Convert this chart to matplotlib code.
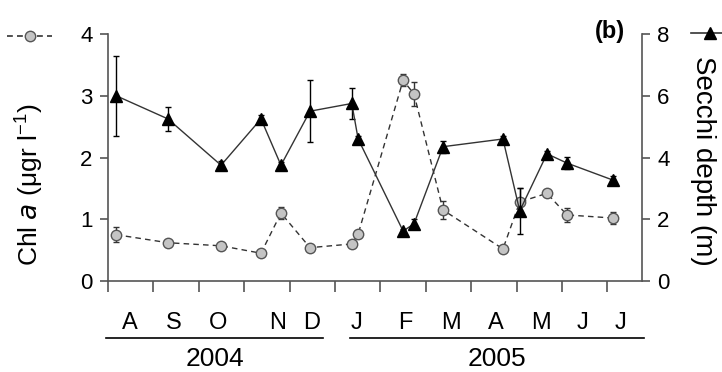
import matplotlib

matplotlib.use("Agg")
import matplotlib.pyplot as plt
import matplotlib.transforms as mtransforms

plt.rcParams["font.family"] = ["Liberation Sans", "DejaVu Sans"]

# sampling dates, in months since 1 Aug 2004
t = [0.18, 1.32, 2.49, 3.37, 3.81, 4.45, 5.37, 5.51, 6.50, 6.74, 7.38, 8.70, 9.07, 9.67, 10.11, 11.12]

chl = [0.75, 0.62, 0.57, 0.45, 1.10, 0.54, 0.60, 0.76, 3.25, 3.03, 1.15, 0.52, 1.28, 1.42, 1.07, 1.02]
chl_err = [0.12, 0.04, 0.03, 0.03, 0.10, 0.03, 0.03, 0.05, 0.10, 0.20, 0.15, 0.03, 0.22, 0.05, 0.12, 0.10]

secchi = [6.0, 5.25, 3.75, 5.25, 3.75, 5.5, 5.75, 4.6, 1.62, 1.85, 4.35, 4.6, 2.27, 4.12, 3.82, 3.27]
secchi_err = [1.3, 0.4, 0.15, 0.12, 0.12, 1.0, 0.5, 0.1, 0.08, 0.15, 0.2, 0.1, 0.75, 0.08, 0.2, 0.12]

months = ["A", "S", "O", "N", "D", "J", "F", "M", "A", "M", "J", "J"]
month_pos = [0.48, 1.44, 2.43, 3.73, 4.49, 5.48, 6.56, 7.56, 8.55, 9.54, 10.46, 11.28]
years = ["2004", "2005"]
year_span = [(-0.04, 4.74), (5.33, 11.8)]

fig = plt.figure(figsize=(7.22, 3.72), dpi=100)
ax = fig.add_axes([0.1496, 0.2446, 0.7394, 0.664])
ax2 = ax.twinx()

grey = "#333333"
ax.errorbar(t, chl, yerr=chl_err, fmt="o", ls=(0, (4, 3)), color=grey, lw=1.0,
            mfc="#c4c4c4", mec="#555555", ms=7.5, ecolor=grey, elinewidth=1.0,
            capsize=2.5, zorder=3)
ax2.errorbar(t, secchi, yerr=secchi_err, fmt="^", ls="-", color=grey, lw=1.0,
             mfc="black", mec="black", ms=8.5, ecolor="black", elinewidth=1.0,
             capsize=2.5, zorder=3)

ax.set_xlim(0, 11.76)
ax.set_ylim(0, 4)
ax2.set_ylim(0, 8)
ax.set_yticks([0, 1, 2, 3, 4])
ax2.set_yticks([0, 2, 4, 6, 8])

for a in (ax, ax2):
    a.spines["top"].set_visible(False)
    for s in a.spines.values():
        s.set_color("#555555")
        s.set_linewidth(1.2)
ax.spines["right"].set_visible(False)
ax2.spines["left"].set_visible(False)
ax2.spines["bottom"].set_visible(False)

ax.tick_params(axis="y", length=6, width=1.2, color="#555555", labelsize=16, pad=5)
ax2.tick_params(axis="y", length=6, width=1.2, color="#555555", labelsize=16, pad=5)

ax.set_xticks(range(12))
ax.set_xticklabels([])
ax.tick_params(axis="x", which="major", length=8, width=1.2, color="#555555")
ax.set_xticks(month_pos, minor=True)
ax.set_xticklabels(months, minor=True, fontsize=17)
ax.tick_params(axis="x", which="minor", length=0, pad=22)

trans = mtransforms.blended_transform_factory(ax.transData, ax.transAxes)
for name, (x0, x1) in zip(years, year_span):
    ax.plot([x0, x1], [-0.231, -0.231], color="black", lw=1.2, transform=trans, clip_on=False)
    ax.text((x0 + x1) / 2, -0.315, name, transform=trans, ha="center", va="center", fontsize=19)

fig.text(0.040, 0.503, "Chl $a$ (\u03bcgr l$^{\\mathregular{-1}}$)", rotation=90, ha="center",
         va="center", fontsize=19)
fig.text(0.973, 0.567, "Secchi depth (m)", rotation=-90, ha="center", va="center", fontsize=20)
fig.text(0.845, 0.915, "(b)", ha="center", va="center", fontsize=17, fontweight="bold")

# legend keys beside the axis labels
fig.lines.append(plt.Line2D([0.01, 0.072], [0.903, 0.903], transform=fig.transFigure, color=grey,
                            ls=(0, (3.5, 2.5)), lw=1.2))
fig.lines.append(plt.Line2D([0.041], [0.903], transform=fig.transFigure, marker="o", ms=7.5,
                            mfc="#c4c4c4", mec="#555555", ls="none"))
fig.lines.append(plt.Line2D([0.957, 1.0], [0.911, 0.911], transform=fig.transFigure, color=grey, lw=1.2))
fig.lines.append(plt.Line2D([0.983], [0.911], transform=fig.transFigure, marker="^", ms=8,
                            mfc="black", mec="black", ls="none"))

fig.savefig("out.png", dpi=100)
